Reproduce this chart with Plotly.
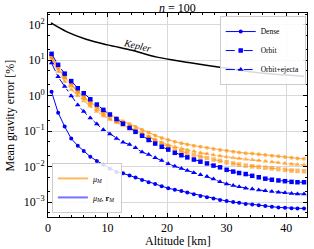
import plotly.graph_objects as go

altitude_km = [0.6, 1.7, 2.8, 3.9, 5.0, 6.0, 7.1, 8.2, 9.3, 10.4, 11.5, 12.6, 13.7, 14.7,
               15.8, 16.9, 18.0, 19.1, 20.2, 21.3, 22.4, 23.4, 24.5, 25.6, 26.7, 27.8,
               28.9, 30.0, 31.1, 32.1, 33.2, 34.3, 35.4, 36.5, 37.6, 38.7, 39.8, 40.9,
               41.9, 43.0]

dense_mu_r = [1.29, 0.331, 0.135, 0.0617, 0.0389, 0.0275, 0.0191, 0.0145, 0.0112, 0.00871,
              0.00708, 0.00646, 0.00562, 0.0049, 0.00417, 0.00363, 0.00324, 0.00282, 0.00245,
              0.00224, 0.00204, 0.00186, 0.00166, 0.00148, 0.00138, 0.00126, 0.00115, 0.00107,
              0.00100, 0.000955, 0.000891, 0.000851, 0.000813, 0.000776, 0.000741, 0.000708,
              0.000692, 0.000676, 0.000661, 0.000661]

orbit_mu_r = [15.1, 7.41, 4.17, 2.57, 1.62, 1.17, 0.794, 0.562, 0.398, 0.295, 0.219, 0.162,
              0.123, 0.0955, 0.0741, 0.0562, 0.0447, 0.0363, 0.0302, 0.0245, 0.0209, 0.0182,
              0.0158, 0.0138, 0.0123, 0.0107, 0.00955, 0.00813, 0.00724, 0.00661, 0.00617,
              0.0055, 0.00501, 0.00457, 0.00427, 0.00407, 0.00389, 0.00372, 0.00363, 0.00363]

ejecta_mu_r = [8.32, 3.39, 1.82, 0.977, 0.55, 0.355, 0.234, 0.158, 0.11, 0.0832, 0.0617,
               0.049, 0.0417, 0.0339, 0.0257, 0.0219, 0.0178, 0.0148, 0.012, 0.0102, 0.00891,
               0.00776, 0.00676, 0.00589, 0.00525, 0.00447, 0.00372, 0.00324, 0.00295,
               0.00269, 0.00245, 0.00234, 0.00219, 0.00209, 0.002, 0.00191, 0.00182, 0.00174,
               0.0017, 0.0017]

dense_mu = [12.0, 5.89, 3.31, 2.09, 1.32, 0.933, 0.661, 0.479, 0.363, 0.288, 0.234, 0.191,
            0.158, 0.132, 0.110, 0.0912, 0.0759, 0.0646, 0.0562, 0.0501, 0.0457, 0.0417,
            0.0389, 0.0363, 0.0339, 0.0316, 0.0295, 0.0282, 0.0263, 0.0251, 0.024, 0.0234,
            0.0224, 0.0214, 0.0204, 0.0195, 0.0186, 0.0178, 0.017, 0.0166]

orbit_mu = [12.6, 6.31, 3.39, 2.0, 1.26, 0.871, 0.603, 0.427, 0.316, 0.245, 0.195, 0.158,
            0.129, 0.105, 0.0851, 0.0676, 0.0537, 0.0437, 0.0363, 0.0309, 0.0269, 0.024,
            0.0214, 0.0191, 0.0174, 0.0158, 0.0145, 0.0132, 0.0123, 0.0115, 0.0107, 0.0102,
            0.00977, 0.00933, 0.00891, 0.00851, 0.00813, 0.00776, 0.00759, 0.00741]

ejecta_mu = [10.0, 4.79, 2.51, 1.48, 1.00, 0.708, 0.501, 0.355, 0.269, 0.214, 0.174, 0.145,
             0.120, 0.100, 0.0832, 0.0692, 0.0562, 0.0479, 0.0407, 0.0363, 0.0324, 0.0295,
             0.0269, 0.0245, 0.0229, 0.0214, 0.02, 0.0186, 0.0178, 0.017, 0.0162, 0.0155,
             0.0148, 0.0141, 0.0135, 0.0129, 0.0123, 0.0117, 0.0115, 0.0112]

kepler_alt = [0.5, 3.1, 6.4, 10.0, 14.3, 18.3, 23.9, 30.0, 35.0, 40.0, 43.0]
kepler_err = [112, 64, 39, 27, 18.7, 12.2, 8.5, 5.9, 4.5, 3.8, 3.5]

y_tick_vals = [1e-3, 1e-2, 1e-1, 1, 10, 100]
y_tick_text = ["10<sup>−3</sup>", "10<sup>−2</sup>", "10<sup>−1</sup>",
               "10<sup>0</sup>", "10<sup>1</sup>", "10<sup>2</sup>"]
x_tick_vals = [0, 10, 20, 30, 40]

BLUE = "#0000ff"
ORANGE = "rgba(255,140,0,0.62)"
SERIF = "Liberation Serif"

fig = go.Figure()

styles = [("Dense", "solid", "circle", 4),
          ("Orbit", "dash", "square", 4.5),
          ("Orbit+ejecta", "dashdot", "triangle-up", 5)]

orange_sets = [dense_mu, orbit_mu, ejecta_mu]
blue_sets = [dense_mu_r, orbit_mu_r, ejecta_mu_r]

for (name, dash, sym, ms), ys in zip(styles, orange_sets):
    fig.add_trace(go.Scatter(x=altitude_km, y=ys, mode="lines+markers",
                             line=dict(color=ORANGE, width=1.2, dash=dash),
                             marker=dict(color=ORANGE, symbol=sym, size=ms),
                             showlegend=False))

for (name, dash, sym, ms), ys in zip(styles, blue_sets):
    fig.add_trace(go.Scatter(x=altitude_km, y=ys, mode="lines+markers", name=name,
                             line=dict(color=BLUE, width=1, dash=dash),
                             marker=dict(color=BLUE, symbol=sym, size=ms),
                             legend="legend"))

fig.add_trace(go.Scatter(x=kepler_alt, y=kepler_err, mode="lines",
                         line=dict(color="black", width=1.5, shape="spline"),
                         showlegend=False))

fig.add_trace(go.Scatter(x=[None], y=[None], mode="lines", name="<i>μ<sub>M</sub></i>",
                         line=dict(color=ORANGE, width=2), legend="legend2"))
fig.add_trace(go.Scatter(x=[None], y=[None], mode="lines",
                         name="<i>μ<sub>M</sub></i>, <b>r</b><sub><i>M</i></sub>",
                         line=dict(color="rgba(0,0,255,0.55)", width=2), legend="legend2"))

fig.add_annotation(x=15.0, y=1.405, xref="x", yref="y", text="<i>Kepler</i>",
                   showarrow=False, textangle=13,
                   font=dict(family=SERIF, size=10, color="black"))

# axis titles as annotations in paper coordinates
fig.add_annotation(x=0.5, y=-0.118, xref="paper", yref="paper", text="Altitude [km]",
                   showarrow=False, xanchor="center", yanchor="middle",
                   font=dict(family=SERIF, size=12, color="black"))
fig.add_annotation(x=-0.145, y=0.5, xref="paper", yref="paper", text="Mean gravity error [%]",
                   showarrow=False, xanchor="center", yanchor="middle", textangle=-90,
                   font=dict(family=SERIF, size=12, color="black"))

axis_common = dict(showline=True, linecolor="black", linewidth=1, mirror="ticks",
                   ticks="inside", ticklen=4, tickcolor="black",
                   showgrid=True, gridcolor="#d9d9d9", gridwidth=1, zeroline=False,
                   automargin=False,
                   tickfont=dict(family=SERIF, size=12, color="black"))

fig.update_xaxes(range=[0, 43.5], tickvals=x_tick_vals,
                 minor=dict(ticks="inside", ticklen=2, dtick=2, tickcolor="black", showgrid=False),
                 **axis_common)
fig.update_yaxes(type="log", range=[-3.42, 2.33], tickvals=y_tick_vals, ticktext=y_tick_text,
                 minor=dict(ticks="inside", ticklen=2, tickcolor="black", showgrid=False),
                 **axis_common)

fig.update_layout(
    width=314, height=249,
    margin=dict(l=48, r=7, t=13, b=32),
    paper_bgcolor="white", plot_bgcolor="white",
    title=dict(text="<i>n</i> = 100", x=0.565, xanchor="center", y=0.985, yanchor="top",
               font=dict(family=SERIF, size=12, color="black")),
    legend=dict(x=0.995, y=0.985, xanchor="right", yanchor="top",
                bgcolor="rgba(255,255,255,0.85)", bordercolor="#cccccc", borderwidth=1,
                font=dict(family=SERIF, size=7.5, color="black"),
                itemwidth=30, tracegroupgap=0),
    legend2=dict(x=0.015, y=0.02, xanchor="left", yanchor="bottom",
                 bgcolor="rgba(255,255,255,0.85)", bordercolor="#cccccc", borderwidth=1,
                 font=dict(family=SERIF, size=8, color="black"),
                 itemwidth=30, tracegroupgap=0),
)

fig.write_html("out.html", config={"displayModeBar": False},
               post_script="document.body.style.margin='0';document.body.style.padding='0';")
